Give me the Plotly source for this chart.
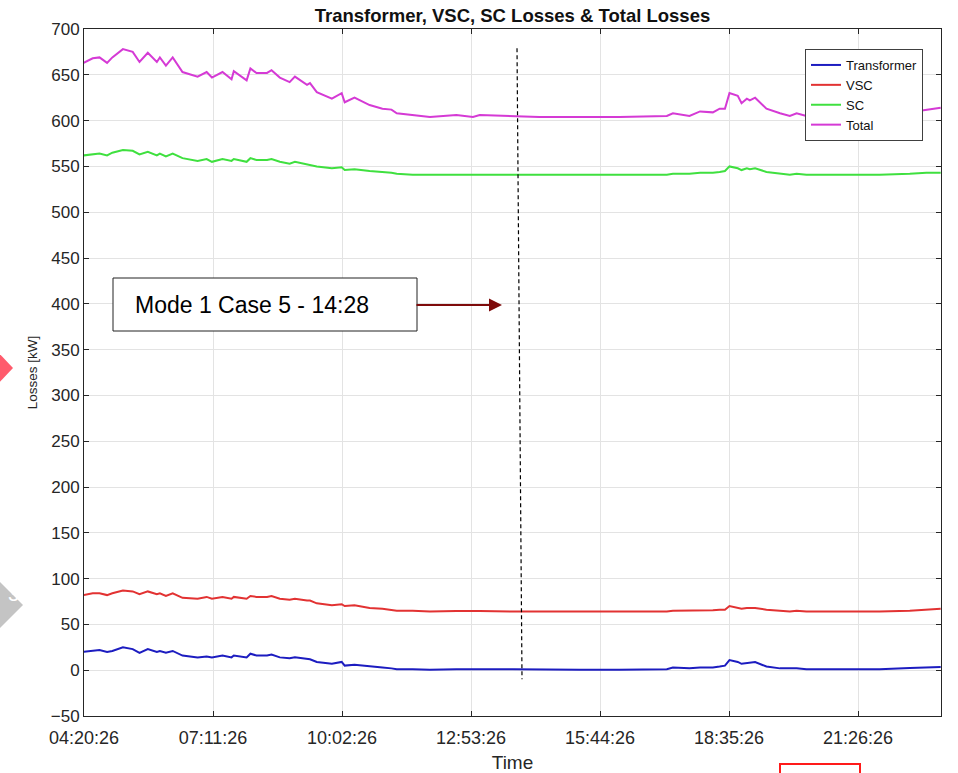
import plotly.graph_objects as go

# ---------------- data ----------------
times = ["04:20","04:32","04:41","04:51","04:58","05:12","05:25","05:34","05:45","05:57",
         "06:01","06:09","06:18","06:31","06:51","07:03","07:10","07:24","07:36","07:39",
         "07:56","08:01","08:09","08:23","08:29","08:40","08:53","09:00","09:16","09:20",
         "09:29","09:49","10:02","10:06","10:19","10:39","10:56","11:08","11:15","11:36",
         "11:59","12:34","12:56","13:05","13:49","14:24","15:17","16:10","17:13","17:21",
         "17:43","17:57","18:14","18:23","18:30","18:36","18:47","18:52","18:59","19:03",
         "19:10","19:25","19:43","19:56","20:05","20:18","21:02","21:55","22:35","22:57",
         "23:16"]

transformer = [20, 21, 22, 20, 21, 25, 23, 19, 23, 20,
               21, 19, 21, 16, 14, 15, 14, 16, 14, 16,
               14, 18, 16, 16, 17, 14, 13, 14, 12, 12,
               9, 7, 9, 5, 6, 4, 3, 2, 1, 1,
               0.5, 1, 0.5, 1, 1, 0.5, 0.5, 0.5, 1, 3,
               2, 3, 3, 4, 5, 11, 9, 7, 8, 8,
               9, 4, 2, 2, 2, 1, 1, 1, 2.5, 3,
               3.5]

vsc = [82, 84, 84, 82, 84, 87, 86, 83, 86, 83,
       84, 81, 84, 79, 78, 80, 78, 80, 78, 80,
       78, 81, 80, 80, 81, 78, 77, 78, 76, 76,
       73, 71, 72, 70, 71, 68, 67, 66, 65, 65,
       64, 64.5, 64, 64.5, 64, 64, 64, 64, 64, 65,
       65, 65.5, 65.5, 66, 66, 70, 68, 67, 68, 68,
       68, 66, 65, 64, 65, 64, 64, 64, 65, 66,
       67]

sc = [562, 563, 564, 562, 565, 568, 567, 563, 566, 562,
      564, 561, 564, 559, 556, 558, 555, 558, 556, 558,
      555, 559, 557, 557, 558, 555, 553, 555, 552, 552,
      550, 548, 549, 546, 547, 545, 544, 543, 542, 541,
      541, 541, 541, 541, 541, 541, 541, 541, 541, 542,
      542, 543, 543, 544, 545, 550, 548, 546, 548, 547,
      548, 544, 542, 541, 542, 541, 541, 541, 542, 543,
      543]

total = [663, 668, 669, 663, 669, 678, 675, 664, 674, 664,
         669, 660, 669, 653, 648, 653, 647, 653, 645, 654,
         644, 657, 652, 652, 655, 647, 642, 648, 639, 641,
         631, 624, 630, 620, 625, 617, 613, 612, 608, 606,
         604, 606, 604, 606, 605, 604, 604, 604, 605, 608,
         605, 610, 609, 613, 613, 630, 627, 619, 624, 622,
         625, 613, 608, 605, 608, 605, 604, 605, 609, 612,
         614]

series_names = ["Transformer", "VSC", "SC", "Total"]
series_colors = ["#1c1cc0", "#e23232", "#3fe03f", "#d53ad5"]

tick_labels = ["04:20:26", "07:11:26", "10:02:26", "12:53:26", "15:44:26", "18:35:26", "21:26:26"]
x_start, x_end = "04:20:26", "23:16:23"
y_min, y_max, y_step = -50, 700, 50

marker_times = ["13:54:23", "14:01:01"]   # dashed line (top, bottom)
marker_values = [679, -10]
note_text = "Mode 1 Case 5 - 14:28"

DAY = "2021-01-01 "
def ts(t):
    return DAY + (t if t.count(":") == 2 else t + ":00")

x = [ts(t) for t in times]

# ---------------- figure ----------------
fig = go.Figure()
for name, ys, col in zip(series_names, [transformer, vsc, sc, total], series_colors):
    fig.add_trace(go.Scatter(x=x, y=ys, mode="lines", name=name,
                             line=dict(color=col, width=2)))

L, R, T, B = 84, 941, 29, 716
W, H = 958, 773
def px(p):
    return (p - L) / (R - L)
def py(p):
    return (B - p) / (B - T)

axis_col = "#262626"
fig.update_layout(
    width=W, height=H,
    margin=dict(l=L, r=W - R, t=T, b=H - B, autoexpand=False),
    paper_bgcolor="white", plot_bgcolor="white",
    font=dict(family="Liberation Sans, Arial, sans-serif", color=axis_col),
    title=dict(text="<b>Transformer, VSC, SC Losses & Total Losses</b>",
               x=0.5, xref="paper", xanchor="center",
               y=1 - 16 / H, yref="container", yanchor="middle",
               font=dict(size=18.5, color="#111111")),
    legend=dict(x=px(923), y=py(49), xanchor="right", yanchor="top",
                bgcolor="white", bordercolor="#404040", borderwidth=1,
                font=dict(size=13, color="#111111"), itemwidth=30,
                tracegroupgap=0),
    showlegend=True,
)

fig.update_xaxes(
    type="date", range=[ts(x_start), ts(x_end)],
    tickmode="array", tickvals=[ts(t) for t in tick_labels], ticktext=tick_labels,
    ticks="inside", ticklen=5, tickcolor=axis_col,
    showline=True, linecolor=axis_col, linewidth=1, mirror="ticks",
    showgrid=True, gridcolor="#e3e3e3", gridwidth=1, zeroline=False,
    tickfont=dict(size=18, color=axis_col), ticklabelstandoff=5,
    title=dict(text="Time", font=dict(size=19, color=axis_col), standoff=12),
    automargin=False,
)
fig.update_yaxes(
    range=[y_min, y_max], dtick=y_step, tick0=0,
    ticks="inside", ticklen=5, tickcolor=axis_col,
    showline=True, linecolor=axis_col, linewidth=1, mirror="ticks",
    showgrid=True, gridcolor="#e3e3e3", gridwidth=1, zeroline=False,
    tickfont=dict(size=17, color=axis_col),
    title=dict(text="Losses [kW]", font=dict(size=13.5, color=axis_col), standoff=10),
    automargin=False,
)

# dashed marker line
fig.add_shape(type="line", xref="x", yref="y",
              x0=ts(marker_times[0]), y0=marker_values[0],
              x1=ts(marker_times[1]), y1=marker_values[1],
              line=dict(color="black", width=1.2, dash="4px,3px"))

# annotation box with text
fig.add_shape(type="rect", xref="paper", yref="paper",
              x0=px(113), x1=px(417), y0=py(331), y1=py(278),
              line=dict(color="#222222", width=1), fillcolor="white")
fig.add_annotation(x=px(133), y=py(305), xref="paper", yref="paper",
                   text=note_text, showarrow=False, xanchor="left", yanchor="middle",
                   font=dict(size=23, color="black"))
# arrow
fig.add_annotation(x=px(502), y=py(305), xref="paper", yref="paper",
                   ax=-87, ay=0, text="", showarrow=True,
                   arrowhead=2, arrowsize=1.3, arrowwidth=2, arrowcolor="#7e0b0b")

# decorative overlays outside the plot
def diamond(cx, cy, hw, hh):
    pts = [(cx, cy - hh), (cx + hw, cy), (cx, cy + hh), (cx - hw, cy)]
    return "M " + " L ".join(f"{px(a)},{py(b)}" for a, b in pts) + " Z"

fig.add_shape(type="path", xref="paper", yref="paper",
              path=diamond(-4, 368, 17, 18), fillcolor="#ff5b6c", line=dict(width=0))
fig.add_shape(type="path", xref="paper", yref="paper",
              path=diamond(-4, 605, 27, 27), fillcolor="#c4c4c4", line=dict(width=0))
fig.add_annotation(x=px(6), y=py(607), xref="paper", yref="paper", text="3",
                   showarrow=False, font=dict(size=20, color="white"))
fig.add_shape(type="rect", xref="paper", yref="paper",
              x0=px(780), x1=px(860), y0=py(778), y1=py(764),
              line=dict(color="#ff1a1a", width=2), fillcolor="rgba(0,0,0,0)")

fig.write_html("out.html", config={"displayModeBar": False},
               post_script="document.body.style.margin='0';")
